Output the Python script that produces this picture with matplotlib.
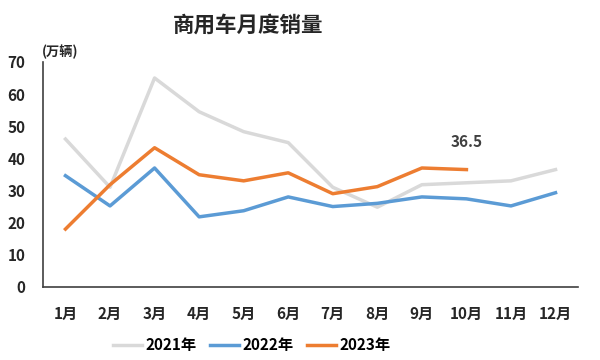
import matplotlib.pyplot as plt

plt.rcParams['font.family'] = ['Noto Sans CJK SC', 'DejaVu Sans']

months = ['1月', '2月', '3月', '4月', '5月', '6月', '7月', '8月', '9月', '10月', '11月', '12月']
sales_2021 = [46, 31, 65, 54.5, 48.3, 44.9, 31, 24.8, 31.8, 32.4, 33, 36.5]
sales_2022 = [34.6, 25.2, 37, 21.8, 23.7, 28, 25, 26, 28, 27.4, 25.2, 29.3]
sales_2023 = [18, 31.8, 43.3, 34.9, 33, 35.5, 29, 31.2, 37, 36.5]

fig = plt.figure(figsize=(6, 3.6), dpi=100)
ax = fig.add_axes([0.072, 0.203, 0.891, 0.625])

x = range(len(months))
ax.plot(x, sales_2021, color='#d9d9d9', lw=2.5, label='2021年')
ax.plot(x, sales_2022, color='#5b9bd5', lw=2.5, label='2022年')
ax.plot(range(len(sales_2023)), sales_2023, color='#ed7d31', lw=2.5, label='2023年')

# 标注最新值
ax.annotate(f'{sales_2023[-1]}', (len(sales_2023) - 1, sales_2023[-1]),
            xytext=(0, 14), textcoords='offset points', ha='center', va='bottom',
            fontsize=11, fontweight='bold', color='#404040')

ax.set_xlim(-0.5, 11.5)
ax.set_ylim(0, 70)
ax.set_yticks(range(0, 71, 10))
ax.set_xticks(list(x))
ax.set_xticklabels(months)
for lab in ax.get_xticklabels() + ax.get_yticklabels():
    lab.set_fontweight('bold')
    lab.set_fontsize(11)
    lab.set_color('#262626')
ax.tick_params(axis='both', length=0)
ax.tick_params(axis='y', pad=13)
ax.tick_params(axis='x', pad=14)

for s in ['top', 'right']:
    ax.spines[s].set_visible(False)
ax.spines['left'].set_color('#404040')
ax.spines['bottom'].set_color('#404040')
ax.spines['left'].set_linewidth(1.2)
ax.spines['bottom'].set_linewidth(1.2)

fig.text(0.413, 0.93, '商用车月度销量', ha='center', va='center',
         fontsize=15.5, fontweight='bold', color='#262626')
fig.text(0.07, 0.855, '(万辆)', ha='left', va='center',
         fontsize=9.5, fontweight='bold', color='#262626')

leg = fig.legend(loc='center', bbox_to_anchor=(0.42, 0.042), ncol=3, frameon=False,
                 handlelength=1.9, columnspacing=0.9, handletextpad=0.2,
                 prop={'weight': 'bold', 'size': 11})

fig.savefig('out.png', dpi=100)
